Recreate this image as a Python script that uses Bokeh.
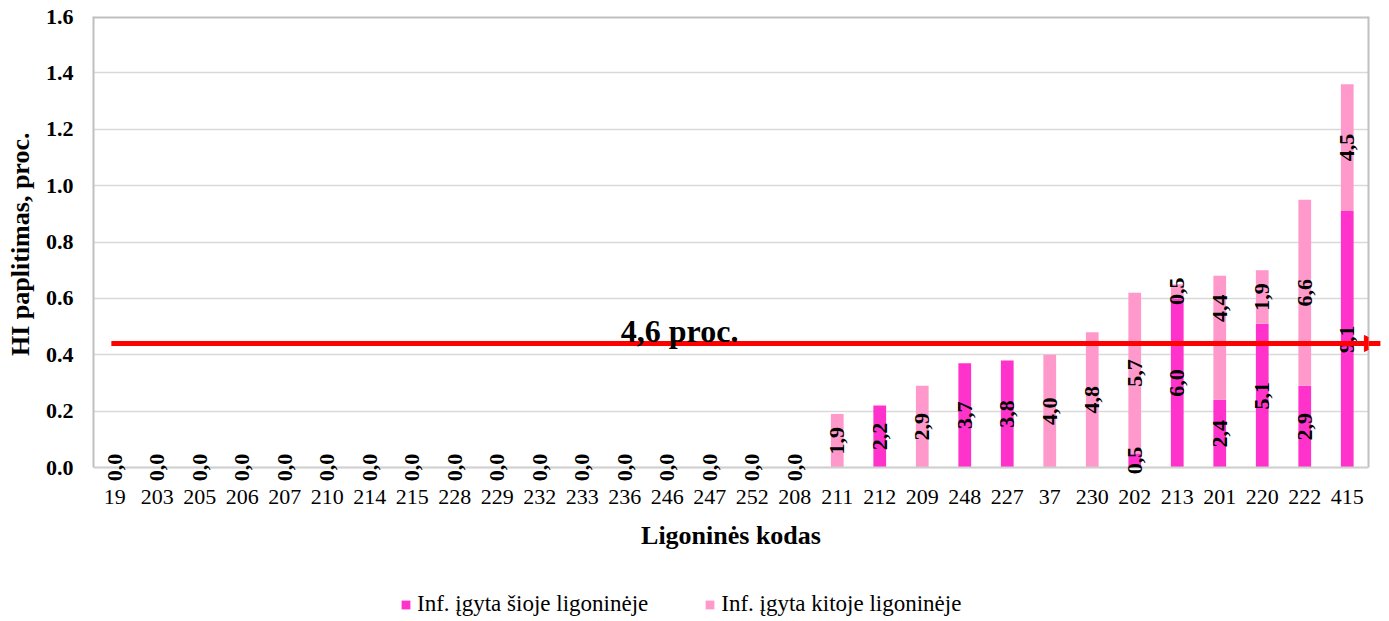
import math
from bokeh.plotting import figure
from bokeh.models import (ColumnDataSource, Arrow, NormalHead, Label, Legend,
                          LegendItem, FactorRange, Range1d, FixedTicker,
                          NumeralTickFormatter, LabelSet, Span, LinearAxis)
from bokeh.embed import file_html
from bokeh.resources import INLINE

# ---------------- data ----------------
categories = ["19", "203", "205", "206", "207", "210", "214", "215", "228",
              "229", "232", "233", "236", "246", "247", "252", "208", "211",
              "212", "209", "248", "227", "37", "230", "202", "213", "201",
              "220", "222", "415"]
# Inf. įgyta šioje ligoninėje
this_hosp = [0, 0, 0, 0, 0, 0, 0, 0, 0, 0, 0, 0, 0, 0, 0, 0, 0,
             0, 0.22, 0, 0.37, 0.38, 0, 0, 0.05, 0.60, 0.24, 0.51, 0.29, 0.91]
# Inf. įgyta kitoje ligoninėje
other_hosp = [0, 0, 0, 0, 0, 0, 0, 0, 0, 0, 0, 0, 0, 0, 0, 0, 0,
              0.19, 0, 0.29, 0, 0, 0.40, 0.48, 0.57, 0.05, 0.44, 0.19, 0.66, 0.45]
series_names = ["Inf. įgyta šioje ligoninėje", "Inf. įgyta kitoje ligoninėje"]
x_title = "Ligoninės kodas"
y_title = "HI paplitimas, proc."
avg_value = 0.44
avg_label = "4,6 proc."
y_ticks = [0, 0.2, 0.4, 0.6, 0.8, 1.0, 1.2, 1.4, 1.6]
# label of 201 (other hospital) was moved up above the arrow in the original
label_nudge = {("201", "light"): 0.105}

DARK = "#FF33CC"
LIGHT = "#FF99CC"
BORDER = "#C0C0C0"
SERIF = "Liberation Serif"


def fmt(v):
    return f"{v * 10:.1f}".replace(".", ",")


src = ColumnDataSource(dict(cat=categories, dark=this_hosp, light=other_hosp))

# value labels (centre of each segment)
lx, ly, lt = [], [], []
for c, d, l in zip(categories, this_hosp, other_hosp):
    if d == 0 and l == 0:
        lx.append(c); ly.append(0.0); lt.append(fmt(0))
        continue
    if d > 0:
        lx.append(c); ly.append(d / 2 + label_nudge.get((c, "dark"), 0)); lt.append(fmt(d))
    if l > 0:
        lx.append(c); ly.append(d + l / 2 + label_nudge.get((c, "light"), 0)); lt.append(fmt(l))
lsrc = ColumnDataSource(dict(x=lx, y=ly, t=lt))
tsrc = ColumnDataSource(dict(x=categories, y=[0] * len(categories), t=categories))

# The frame reaches down to the bottom of the picture so that the category
# labels, the axis title and the legend (all drawn inside it) are not clipped.
p = figure(x_range=FactorRange(factors=categories, range_padding=0),
           y_range=Range1d(-0.5463, 1.6),
           frame_width=1275, frame_height=605,
           min_border_left=93, min_border_right=13, min_border_top=16,
           min_border_bottom=0,
           output_backend="svg", toolbar_location=None)
p.outline_line_color = None
p.xaxis.visible = False

renderers = p.vbar_stack(["dark", "light"], x="cat", width=0.3,
                         color=[DARK, LIGHT], line_color=None, source=src)

# axis line at zero and plot-area border
p.add_layout(Span(location=0, dimension="width", line_color="#D0D0D0", line_width=2))
p.add_layout(Span(location=1.6, dimension="width", line_color=BORDER, line_width=4))
right_axis = LinearAxis(ticker=FixedTicker(ticks=[]), bounds=(0, 1.6),
                        axis_line_color=BORDER, axis_line_width=2,
                        major_tick_line_color=None, minor_tick_line_color=None)
p.add_layout(right_axis, "right")

# category tick labels and x axis title
p.add_layout(LabelSet(x="x", y="y", text="t", source=tsrc, y_offset=-29,
                      text_align="center", text_baseline="middle",
                      text_font=SERIF, text_font_size="22px", text_color="black"))
p.add_layout(Label(x=len(categories) / 2, y=0, y_offset=-68, text=x_title,
                   text_align="center", text_baseline="middle",
                   text_font=SERIF, text_font_style="bold",
                   text_font_size="26px", text_color="black"))

labels = LabelSet(x="x", y="y", text="t", source=lsrc, angle=math.pi / 2,
                  text_align="center", text_baseline="middle",
                  text_font=SERIF, text_font_style="bold",
                  text_font_size="22px", text_color="black")
p.add_layout(labels)

arrow = Arrow(end=NormalHead(size=16, fill_color="#FF0000", line_color="#FF0000"),
              x_start=0.42, y_start=avg_value, x_end=30.28, y_end=avg_value,
              line_color="#FF0000", line_width=5)
p.add_layout(arrow)

p.add_layout(Label(x=13.79, y=0.486, text=avg_label, text_align="center",
                   text_baseline="alphabetic", text_font=SERIF,
                   text_font_style="bold", text_font_size="32px",
                   text_color="black"))

# y axis & grid
p.xgrid.grid_line_color = None
p.ygrid.grid_line_color = "#D9D9D9"
p.ygrid.grid_line_width = 1.5

ya = p.yaxis[0]
ya.ticker = FixedTicker(ticks=y_ticks)
ya.formatter = NumeralTickFormatter(format="0.0")
ya.bounds = (0, 1.6)
# the axis title is centred on the whole (extended) frame; leading no-break
# spaces lift the visible words to the middle of the 0-1.6 part
ya.axis_label = "\u00a0" * 23 + y_title
ya.axis_line_color = BORDER
ya.axis_line_width = 2
ya.major_tick_line_color = None
ya.minor_tick_line_color = None
ya.major_tick_out = 0
ya.major_tick_in = 0
ya.major_label_text_font = SERIF
ya.major_label_text_color = "black"
ya.major_label_text_font_size = "22px"
ya.major_label_text_font_style = "bold"
ya.major_label_standoff = 20
ya.axis_label_text_font = SERIF
ya.axis_label_text_font_style = "bold"
ya.axis_label_text_color = "black"
ya.axis_label_text_font_size = "26px"
ya.axis_label_standoff = 8

legend = Legend(items=[LegendItem(label=series_names[0], renderers=[renderers[0]]),
                       LegendItem(label=series_names[1], renderers=[renderers[1]])],
                orientation="horizontal", location=(307, 4),
                glyph_width=11, glyph_height=11, label_standoff=6, spacing=56,
                padding=0, margin=0, border_line_color=None,
                background_fill_alpha=0,
                label_text_font=SERIF, label_text_font_size="23px",
                label_text_color="black")
p.add_layout(legend)

open("out.html", "w").write(file_html(p, INLINE))
